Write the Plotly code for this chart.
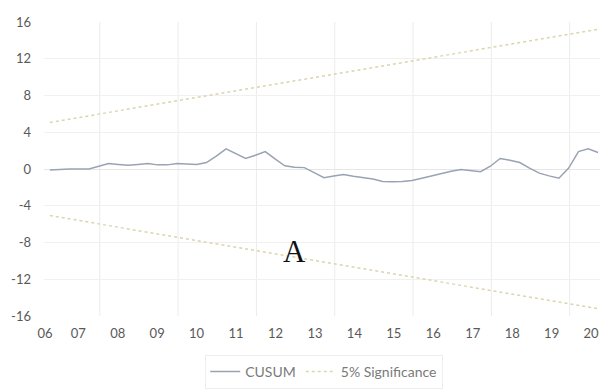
import plotly.graph_objects as go

# CUSUM values, quarterly
cusum = [-0.1, -0.03, 0.0, 0.0, 0.0, 0.3, 0.6, 0.5, 0.4, 0.5,
         0.6, 0.45, 0.45, 0.6, 0.55, 0.5, 0.7, 1.4, 2.2, 1.7,
         1.15, 1.5, 1.9, 1.1, 0.35, 0.2, 0.15, -0.4, -0.95, -0.75,
         -0.6, -0.8, -0.95, -1.1, -1.35, -1.4, -1.35, -1.25, -1.0, -0.75,
         -0.45, -0.25, -0.05, -0.15, -0.3, 0.3, 1.15, 0.95, 0.7, 0.1,
         -0.45, -0.75, -1.0, 0.1, 1.9, 2.2, 1.8]
# 5% significance bounds (start and end of each straight line)
upper_bound = [5.07, 15.2]
lower_bound = [-5.07, -15.2]
tick_labels = ["06", "07", "08", "09", "10", "11", "12", "13", "14",
               "15", "16", "17", "18", "19", "20"]
y_ticks = [16, 12, 8, 4, 0, -4, -8, -12, -16]

n = len(cusum)
x_idx = list(range(n))
bound_x = [0, n - 1]

tickvals = [-0.5] + [2.9 + 4.03 * i for i in range(len(tick_labels) - 1)]
grid_x = [5.1 + 8 * i for i in range(7)]

font_fam = "Lato, 'Open Sans', sans-serif"
sig_color = "#dbd5ad"
cusum_color = "#9aa3b3"

fig = go.Figure()
fig.add_trace(go.Scatter(x=x_idx, y=cusum, mode="lines", name="CUSUM",
                         line=dict(color=cusum_color, width=1.5)))
fig.add_trace(go.Scatter(x=bound_x, y=upper_bound, mode="lines", name="5% Significance",
                         legendgroup="sig",
                         line=dict(color=sig_color, width=1.5, dash="dot")))
fig.add_trace(go.Scatter(x=bound_x, y=lower_bound, mode="lines", name="5% Significance",
                         legendgroup="sig", showlegend=False,
                         line=dict(color=sig_color, width=1.5, dash="dot")))

for gx in grid_x:
    fig.add_shape(type="line", xref="x", yref="paper", x0=gx, x1=gx, y0=0, y1=1,
                  line=dict(color="#ececec", width=1), layer="below")

fig.add_annotation(x=25.0, y=-9.0, text="A", showarrow=False,
                   font=dict(family="'Liberation Serif', 'Times New Roman', serif",
                             size=31, color="#111111"))

fig.update_layout(
    width=600, height=389,
    margin=dict(l=44, r=0, t=22, b=73),
    paper_bgcolor="white", plot_bgcolor="white",
    showlegend=True,
    legend=dict(orientation="h", x=0.504, xanchor="center", y=-0.018, yref="container",
                yanchor="bottom",
                font=dict(family=font_fam, size=14, color="#7a7a7a"),
                bordercolor="#eeeeee", borderwidth=1, itemwidth=30),
    xaxis=dict(range=[-0.6, 56.2], tickmode="array", tickvals=tickvals,
               ticktext=tick_labels, showgrid=False, zeroline=False, showline=False,
               ticks="", automargin=False, ticklabelstandoff=8,
               tickfont=dict(family=font_fam, size=13, color="#595959")),
    yaxis=dict(range=[-16, 16], tickmode="array", tickvals=y_ticks,
               ticktext=[str(v) for v in y_ticks], showgrid=True, gridcolor="#f0f0f0",
               zeroline=True, zerolinecolor="#e6e6e6", zerolinewidth=1,
               showline=False, ticks="", ticklabelstandoff=12, automargin=False,
               tickfont=dict(family=font_fam, size=13, color="#595959")),
)

fig.write_html("out.html", config={"displayModeBar": False},
               post_script="document.body.style.margin='0';document.body.style.overflow='hidden';")
